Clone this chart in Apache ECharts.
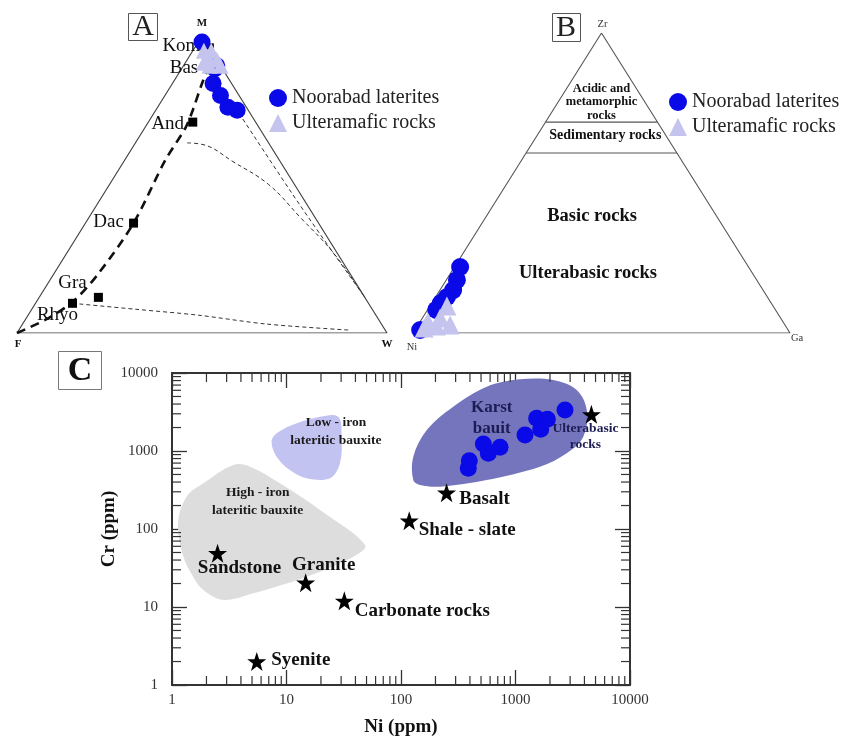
<!DOCTYPE html>
<html><head><meta charset="utf-8">
<script src="https://cdn.jsdelivr.net/npm/echarts/dist/echarts.min.js"></script>
<style>html,body{margin:0;padding:0;background:#fff}#c{width:844px;height:744px}</style>
</head><body><div id="c"></div>
<script>
const FONT = "'Liberation Serif','Times New Roman',serif";
const BLUE = '#0a0ae8';
const LAV = '#c4c4ee';

// ---------------- Panel A: M–F–W ternary, compositions [M, F, W] (%) ----------------
const aVertexNames = ['M', 'F', 'W'];
const aVertices = [[100, 0, 0], [0, 100, 0], [0, 0, 100]];
const aLateritesMFW = [[98, 1, 1], [89, 2, 9], [84, 5, 11], [80, 5, 15], [76, 5, 19], [75, 3, 22], [90, 1, 9]];
const aUltramaficMFW = [[95, 2, 3], [95, 0, 5], [93, 2, 5], [92, 0, 8], [90, 0, 10], [90, 3, 7], [91, 4, 5]];
const aRockNames = ['Kom', 'Bas', 'And', 'Dac', 'Gra', 'Rhyo'];
const aRockMFW = [[96, 0, 4], [90.6, 2, 7.4], [71, 17, 12], [37, 50, 13], [12, 72, 16], [10, 80, 10]];
const aTrendMFW = [[0, 100, 0], [5, 89, 6], [11, 79, 10], [20, 68, 12], [37, 50, 13], [58, 31, 11], [69, 20, 11], [75, 15, 10], [84, 8, 8], [90, 3, 7]];
const aBoundary1MFW = [[64, 22, 14], [63, 17, 20], [58, 13, 29], [50, 7, 43], [39, 4, 57], [27, 1, 72], [12, 0, 88]];
const aBoundary2MFW = [[74, 3, 23], [43, 2, 55], [12, 0, 88]];
const aBoundary3MFW = [[10, 80, 10], [8, 64, 28], [6, 48, 46], [3, 31, 66], [1, 10, 89]];

// ---------------- Panel B: Zr–Ni–Ga ternary, compositions [Zr, Ni, Ga] (%) ----------------
const bVertexNames = ['Zr', 'Ni', 'Ga'];
const bVertices = [[100, 0, 0], [0, 100, 0], [0, 0, 100]];
const bLateritesZrNiGa = [[22, 76.5, 1.5], [17.7, 79.5, 2.8], [14.3, 82.2, 3.5], [12, 85, 3], [10, 87.6, 2.4], [7.7, 90, 2.3], [1, 97.6, 1.4]];
const bUltramaficZrNiGa = [[9, 86.5, 4.5], [5, 90.3, 4.7], [3.7, 94.2, 2.1], [2.7, 88.8, 8.5], [1.7, 96.2, 2.1], [2.3, 92.7, 5]];
const bBoundaryZr = [70.3, 60];
const bFieldNames = ['Acidic and\nmetamorphic\nrocks', 'Sedimentary rocks', 'Basic rocks', 'Ulterabasic rocks'];
const bFieldZrNiGa = [[77, 11.5, 11.5], [66, 16, 18], [39, 33, 28], [20, 43.6, 36.4]];

// ---------------- Panel C: Cr vs Ni (ppm), log–log ----------------
const cStarNames = ['Syenite', 'Sandstone', 'Granite', 'Carbonate rocks', 'Shale - slate', 'Basalt', 'Ulterabasic\nrocks'];
const cStarNi = [5.5, 2.5, 14.7, 32, 118, 250, 4600];
const cStarCr = [2, 49, 20.5, 12, 128, 292, 2950];
const cLateriteNi = [387, 395, 524, 579, 733, 1211, 1531, 1660, 1897, 2707];
const cLateriteCr = [600, 751, 1230, 935, 1115, 1604, 2625, 1897, 2547, 3355];
const cKarstField = [[128, 425], [128, 845], [168, 1858], [286, 3698], [561, 6670], [1094, 8300], [2138, 8130], [3422, 6050], [4190, 3355], [3910, 1525], [2800, 935], [1637, 629], [561, 425], [219, 349], [147, 366]];
const cLowIronField = [[7.4, 1316], [8.2, 1686], [12.3, 2265], [19.6, 2754], [28.3, 2754], [30.3, 1525], [29.3, 695], [24, 447], [15, 447], [10.7, 570], [8.2, 845]];
const cHighIronField = [[1.13, 118], [1.34, 259], [1.88, 385], [3.43, 662], [4.8, 629], [8.77, 385], [19.6, 175], [48.5, 62.3], [38.3, 44.1], [15, 24.5], [5.13, 15], [2.8, 12.3], [1.88, 16.5], [1.53, 24.5], [1.26, 44.1]];
const cFieldNames = ['Karst\nbauit', 'Low - iron\nlateritic bauxite', 'High - iron\nlateritic bauxite'];
const cFieldNi = [620, 27, 5.6];
const cFieldCr = [2650, 1753, 225];
const cTickValues = [1, 10, 100, 1000, 10000];

// ---------- helpers ----------
function tern(p) { const s = p[0] + p[1] + p[2]; const t = p[0] / s, r = p[2] / s; return [r + t / 2, t]; }
const minorTicks = [];
for (let e = 0; e < 4; e++) for (let k = 2; k <= 9; k++) minorTicks.push(k * Math.pow(10, e));

const STAR = 'path://M50,0 L61.8,35.1 L98.1,35.1 L68.9,56.7 L79.4,91.3 L50,70 L20.6,91.3 L31.1,56.7 L1.9,35.1 L38.2,35.1 Z';

// label offsets (styling)
const aRockLabelOffset = { Kom: [-28, -2], Bas: [-28, 4], And: [-25, 2], Dac: [-25, -1], Gra: [-26, -14], Rhyo: [-15, 12] };
const aVertexOffset = { M: [0, -13], F: [1, 11], W: [0, 11] };
const bVertexOffset = { Zr: [1, -9], Ni: [-1, 14], Ga: [7, 5] };
const cStarOffset = { 'Syenite': [44, -1], 'Sandstone': [22, 15], 'Granite': [18, -18], 'Carbonate rocks': [78, 10], 'Shale - slate': [58, 9], 'Basalt': [38, 6], 'Ulterabasic\nrocks': [-6, 22] };
const bFieldFont = [12.5, 14, 18.5, 18.5];
const cFieldStyle = [
  { fontSize: 17, color: '#1c1c55', lineHeight: 21 },
  { fontSize: 13.5, color: '#1a1a1a', lineHeight: 18 },
  { fontSize: 13.5, color: '#1a1a1a', lineHeight: 18 }
];
const OPAQUE = { opacity: 1 };

function lineSeries(pts, gi, style, smooth) {
  return { type: 'line', xAxisIndex: gi, yAxisIndex: gi, data: pts.map(tern), symbol: 'none', smooth: smooth || false,
    lineStyle: style, silent: true, z: 1, animation: false };
}
function labelPoints(names, pts, offsets, gi, font) {
  return { type: 'scatter', xAxisIndex: gi, yAxisIndex: gi, symbolSize: 0, silent: true, z: 5, itemStyle: OPAQUE,
    data: names.map((n, i) => ({ name: n, value: tern(pts[i]), label: { offset: offsets[n] } })),
    label: Object.assign({ show: true, position: 'inside', formatter: '{b}', fontFamily: FONT, fontWeight: 'bold', color: '#111' }, font) };
}
function fieldSeries(points, color) {
  return { type: 'custom', xAxisIndex: 2, yAxisIndex: 2, z: 1, silent: true, clip: false, data: points,
    renderItem: (params, api) => {
      if (params.dataIndex !== 0) return null;
      return { type: 'polygon', shape: { points: points.map(p => api.coord(p)), smooth: 0.35 }, style: { fill: color } };
    } };
}
const tickStyle = { stroke: '#333', lineWidth: 1.2 };

const series = [
  // ----- A -----
  lineSeries(aVertices.concat([aVertices[0]]), 0, { color: '#444', width: 1.2 }),
  lineSeries(aBoundary1MFW, 0, { color: '#333', width: 1, type: [4, 3] }, 0.4),
  lineSeries(aBoundary2MFW, 0, { color: '#333', width: 1, type: [4, 3] }, 0.3),
  lineSeries(aBoundary3MFW, 0, { color: '#333', width: 1, type: [4, 3] }, 0.3),
  lineSeries(aTrendMFW, 0, { color: '#111', width: 2.6, type: [9, 6] }, 0.3),
  { type: 'scatter', xAxisIndex: 0, yAxisIndex: 0, symbol: 'rect', symbolSize: 9, z: 2, silent: true,
    itemStyle: { color: '#000', opacity: 1 },
    data: aRockNames.map((n, i) => ({ name: n, value: tern(aRockMFW[i]), label: { offset: aRockLabelOffset[n] } })),
    label: { show: true, position: 'inside', formatter: '{b}', fontFamily: FONT, fontSize: 19, color: '#111' } },
  { name: 'Noorabad laterites', type: 'scatter', xAxisIndex: 0, yAxisIndex: 0, symbol: 'circle', symbolSize: 17, z: 3,
    itemStyle: { color: BLUE, opacity: 1 }, data: aLateritesMFW.map(tern) },
  { name: 'Ulteramafic rocks', type: 'scatter', xAxisIndex: 0, yAxisIndex: 0, symbol: 'triangle', symbolSize: 16, z: 4,
    itemStyle: { color: LAV, opacity: 1 }, data: aUltramaficMFW.map(tern) },
  labelPoints(aVertexNames, aVertices, aVertexOffset, 0, { fontSize: 11 }),
  // ----- B -----
  lineSeries(bVertices.concat([bVertices[0]]), 1, { color: '#555', width: 1.1 }),
  ...bBoundaryZr.map(z => lineSeries([[z, 100 - z, 0], [z, 0, 100 - z]], 1, { color: '#555', width: 1.1 })),
  { type: 'scatter', xAxisIndex: 1, yAxisIndex: 1, symbolSize: 0, silent: true, z: 5, itemStyle: OPAQUE,
    data: bFieldNames.map((n, i) => ({ name: n, value: tern(bFieldZrNiGa[i]), label: { fontSize: bFieldFont[i] } })),
    label: { show: true, position: 'inside', formatter: '{b}', fontFamily: FONT, fontWeight: 'bold', color: '#111', lineHeight: 13.5 } },
  { name: 'Noorabad laterites', type: 'scatter', xAxisIndex: 1, yAxisIndex: 1, symbol: 'circle', symbolSize: 18, z: 3,
    itemStyle: { color: BLUE, opacity: 1 }, data: bLateritesZrNiGa.map(tern) },
  { name: 'Ulteramafic rocks', type: 'scatter', xAxisIndex: 1, yAxisIndex: 1, symbol: 'triangle', symbolSize: 19, z: 4,
    itemStyle: { color: LAV, opacity: 1 }, data: bUltramaficZrNiGa.map(tern) },
  labelPoints(bVertexNames, bVertices, bVertexOffset, 1, { fontSize: 10.5, fontWeight: 'normal', color: '#333' }),
  // ----- C -----
  fieldSeries(cHighIronField, '#dddddd'),
  fieldSeries(cLowIronField, '#c3c3f1'),
  fieldSeries(cKarstField, '#7575be'),
  { type: 'scatter', xAxisIndex: 2, yAxisIndex: 2, symbolSize: 0, silent: true, z: 2, itemStyle: OPAQUE,
    data: cFieldNames.map((n, i) => ({ name: n, value: [cFieldNi[i], cFieldCr[i]], label: cFieldStyle[i] })),
    label: { show: true, position: 'inside', formatter: '{b}', fontFamily: FONT, fontWeight: 'bold' } },
  { type: 'scatter', xAxisIndex: 2, yAxisIndex: 2, symbol: STAR, symbolSize: 19, z: 3, silent: true,
    itemStyle: { color: '#000', opacity: 1 },
    data: cStarNames.map((n, i) => ({ name: n, value: [cStarNi[i], cStarCr[i]],
      label: n.indexOf('Ulterabasic') === 0 ? { offset: cStarOffset[n], fontSize: 13.5, color: '#1c1c55', lineHeight: 16 } : { offset: cStarOffset[n] } })),
    label: { show: true, position: 'inside', formatter: '{b}', fontFamily: FONT, fontWeight: 'bold', fontSize: 19, color: '#111' } },
  { name: 'Noorabad laterites', type: 'scatter', xAxisIndex: 2, yAxisIndex: 2, symbol: 'circle', symbolSize: 17, z: 4,
    itemStyle: { color: BLUE, opacity: 1 }, data: cLateriteNi.map((v, i) => [v, cLateriteCr[i]]) },
  // minor ticks (log decades 2..9)
  { type: 'custom', xAxisIndex: 2, yAxisIndex: 2, silent: true, clip: false, z: 6, data: minorTicks.map(v => [v, 1]),
    renderItem: (p, api) => {
      const v = api.value(0), b = api.coord([v, 1]), t = api.coord([v, 10000]);
      return { type: 'group', children: [
        { type: 'line', shape: { x1: b[0], y1: b[1], x2: b[0], y2: b[1] - 9 }, style: tickStyle },
        { type: 'line', shape: { x1: t[0], y1: t[1], x2: t[0], y2: t[1] + 9 }, style: tickStyle }] };
    } },
  { type: 'custom', xAxisIndex: 2, yAxisIndex: 2, silent: true, clip: false, z: 6, data: minorTicks.map(v => [1, v]),
    renderItem: (p, api) => {
      const v = api.value(1), l = api.coord([1, v]), r = api.coord([10000, v]);
      return { type: 'group', children: [
        { type: 'line', shape: { x1: l[0], y1: l[1], x2: l[0] + 9, y2: l[1] }, style: tickStyle },
        { type: 'line', shape: { x1: r[0], y1: r[1], x2: r[0] - 9, y2: r[1] }, style: tickStyle }] };
    } }
];

const hiddenAxis = gi => ({ gridIndex: gi, type: 'value', min: 0, max: 1, show: false });
const logAxisBase = (pos, showLabel) => ({
  gridIndex: 2, type: 'log', logBase: 10, min: cTickValues[0], max: cTickValues[cTickValues.length - 1], position: pos,
  axisLine: { show: true, lineStyle: { color: '#333', width: 2 } },
  axisTick: { show: true, inside: true, length: 15, lineStyle: { color: '#333', width: 1.3 } },
  splitLine: { show: false }, minorTick: { show: false },
  axisLabel: { show: showLabel, fontFamily: FONT, fontSize: 15, color: '#333', formatter: v => String(Math.round(v)) }
});

const legendCommon = {
  orient: 'vertical', itemWidth: 18, itemHeight: 18, itemGap: 5, selectedMode: false,
  textStyle: { fontFamily: FONT, fontSize: 20, color: '#222' },
  data: [{ name: 'Noorabad laterites', icon: 'circle' }, { name: 'Ulteramafic rocks', icon: 'triangle' }]
};

const option = {
  animation: false,
  backgroundColor: '#fff',
  grid: [
    { left: 17, top: 36, width: 370, height: 297 },
    { left: 413, top: 33, width: 377, height: 300 },
    { left: 172, top: 373, width: 458, height: 312 }
  ],
  xAxis: [hiddenAxis(0), hiddenAxis(1),
    Object.assign(logAxisBase('bottom', true), { name: 'Ni (ppm)', nameLocation: 'middle', nameGap: 33, nameMoveOverlap: false,
      nameTextStyle: { fontFamily: FONT, fontWeight: 'bold', fontSize: 19, color: '#111' },
      axisLabel: Object.assign(logAxisBase('bottom', true).axisLabel, { margin: 8 }) }),
    logAxisBase('top', false)],
  yAxis: [hiddenAxis(0), hiddenAxis(1),
    Object.assign(logAxisBase('left', true), { name: 'Cr (ppm)', nameLocation: 'middle', nameGap: 53, nameRotate: 90, nameMoveOverlap: false,
      nameTextStyle: { fontFamily: FONT, fontWeight: 'bold', fontSize: 19, color: '#111' },
      axisLabel: Object.assign(logAxisBase('left', true).axisLabel, { margin: 14 }) }),
    logAxisBase('right', false)],
  legend: [
    Object.assign({ left: 264, top: 83 }, legendCommon),
    Object.assign({ left: 664, top: 87 }, legendCommon)
  ],
  graphic: [
    { type: 'rect', shape: { x: 128.5, y: 13.5, width: 29, height: 27 }, style: { fill: 'none', stroke: '#555', lineWidth: 1 } },
    { type: 'text', x: 143, y: 27, style: { text: 'A', font: "30px 'Liberation Serif'", fill: '#222', align: 'center', verticalAlign: 'middle' } },
    { type: 'rect', shape: { x: 552.5, y: 13.5, width: 28, height: 28 }, style: { fill: 'none', stroke: '#555', lineWidth: 1 } },
    { type: 'text', x: 566, y: 28, style: { text: 'B', font: "30px 'Liberation Serif'", fill: '#222', align: 'center', verticalAlign: 'middle' } },
    { type: 'rect', shape: { x: 58.5, y: 351.5, width: 43, height: 38 }, style: { fill: 'none', stroke: '#777', lineWidth: 1 } },
    { type: 'text', x: 80, y: 371, style: { text: 'C', font: "bold 34px 'Liberation Serif'", fill: '#111', align: 'center', verticalAlign: 'middle' } }
  ],
  series
};

const chart = echarts.init(document.getElementById('c'), null, { renderer: 'canvas' });
chart.setOption(option);
</script></body></html>
